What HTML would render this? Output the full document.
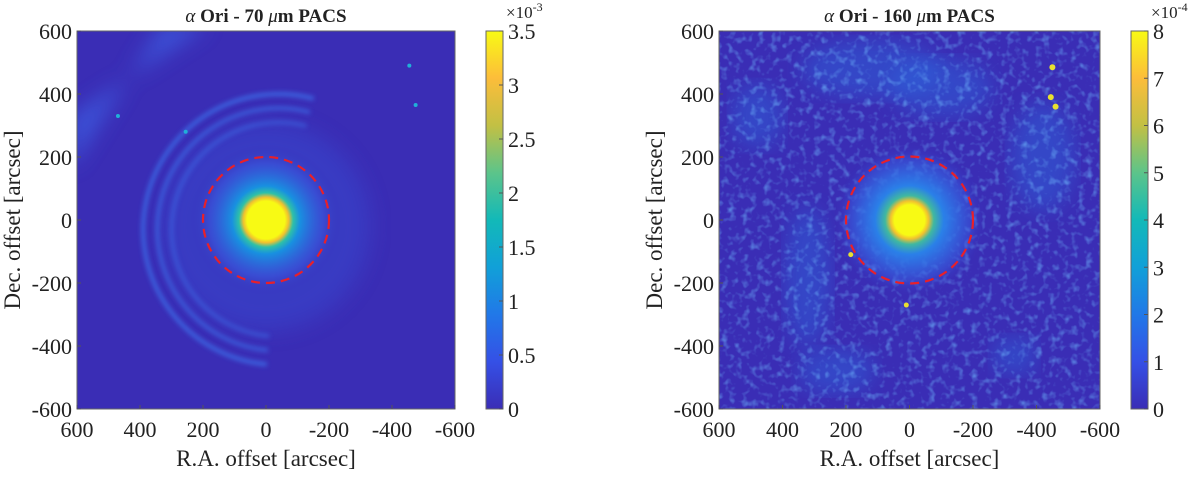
<!DOCTYPE html>
<html><head><meta charset="utf-8">
<style>
body{margin:0;background:#fff;width:1200px;height:478px;overflow:hidden}
svg text{font-family:"Liberation Serif","Times New Roman",serif;fill:#222}
</style></head>
<body>
<svg id="fig" width="1200" height="478" viewBox="0 0 1200 478" xmlns="http://www.w3.org/2000/svg">
<defs>
<linearGradient id="parula" x1="0" y1="1" x2="0" y2="0">
<stop offset="0" stop-color="#3a2db5"/><stop offset="0.125" stop-color="#3550e6"/>
<stop offset="0.25" stop-color="#2178e8"/><stop offset="0.375" stop-color="#11a0d8"/>
<stop offset="0.5" stop-color="#12b9b8"/><stop offset="0.625" stop-color="#5cc48a"/>
<stop offset="0.75" stop-color="#c2c044"/><stop offset="0.875" stop-color="#fcbd3a"/>
<stop offset="1" stop-color="#f8fa14"/>
</linearGradient>
<radialGradient id="star70"><stop offset="0" stop-color="#f8fa14"/><stop offset="0.25" stop-color="#f8fa14"/><stop offset="0.3" stop-color="#f0c030"/><stop offset="0.36" stop-color="#2ec0a8"/><stop offset="0.45" stop-color="#1890e0"/><stop offset="0.75" stop-color="#3a5ae0" stop-opacity="0.55"/><stop offset="1" stop-color="#3a2db5" stop-opacity="0"/></radialGradient>
<radialGradient id="star160"><stop offset="0" stop-color="#f8fa14"/><stop offset="0.2" stop-color="#f8fa14"/><stop offset="0.25" stop-color="#f0c030"/><stop offset="0.32" stop-color="#40b8a0"/><stop offset="0.45" stop-color="#2a80e8"/><stop offset="0.8" stop-color="#3a5ae0" stop-opacity="0.45"/><stop offset="1" stop-color="#3a2db5" stop-opacity="0"/></radialGradient>
<filter id="blur3"><feGaussianBlur stdDeviation="2.5"/></filter>
<filter id="blur8"><feGaussianBlur stdDeviation="10"/></filter>
<filter id="noise" x="0" y="0" width="100%" height="100%"><feTurbulence type="fractalNoise" baseFrequency="0.14" numOctaves="2" seed="4"/><feColorMatrix values="0 0 0 0 0.15  0 0 0 0 0.45  0 0 0 0 0.95  0 0 0 2.2 -1.1"/></filter>
<clipPath id="clipL"><rect x="77" y="31" width="378" height="378"/></clipPath>
<clipPath id="clipR"><rect x="719" y="31" width="381" height="378"/></clipPath>
</defs>
</svg>
<script>
// axis data
const xTicks = [600, 400, 200, 0, -200, -400, -600];
const yTicks = [600, 400, 200, 0, -200, -400, -600];
const cbTicks70 = [0, 0.5, 1, 1.5, 2, 2.5, 3, 3.5];
const cbTicks160 = [0, 1, 2, 3, 4, 5, 6, 7, 8];
// point sources [ra, dec, size]
const src70 = [[470, 330, 2], [-455, 490, 2], [-475, 365, 2], [255, 280, 2]];
const src160 = [[-450, 485, 3], [-445, 390, 3], [-460, 360, 3], [185, -110, 2.5], [10, -270, 2.5]];
// arc radii (arcsec) of 70um shells
const shells70 = [430, 385, 340];
const circleR = 200;

const NS = 'http://www.w3.org/2000/svg';
const fig = document.getElementById('fig');
function el(tag, attrs, parent) {
  const e = document.createElementNS(NS, tag);
  for (const k in attrs) e.setAttribute(k, attrs[k]);
  (parent || fig).appendChild(e);
  return e;
}
function panel(P) {
  const sx = v => P.x + (600 - v) / 1200 * P.w;
  const sy = v => P.y + (600 - v) / 1200 * P.h;
  const k = P.w / 1200;
  const g = el('g', {'clip-path': 'url(#' + P.clip + ')'});
  
  
  el('rect', {x: P.x, y: P.y, width: P.w, height: P.h, fill: '#3a2db5'}, g);
  P.draw(g, sx, sy, k);
  const st = el('circle', {cx: sx(0), cy: sy(0), r: P.starR * k, fill: 'url(#' + P.starGrad + ')'}, g);
  
  
  P.src.forEach(s => {
    const c = el('circle', {cx: sx(s[0]), cy: sy(s[1]), r: s[2], fill: P.srcColor}, g);
    
    
  });
  const dc = el('circle', {cx: sx(0), cy: sy(0), r: circleR * k, fill: 'none', stroke: '#e8202a', 'stroke-width': 2.2, 'stroke-dasharray': '9 6'}, g);
  
  
  el('rect', {x: P.x, y: P.y, width: P.w, height: P.h, fill: 'none', stroke: '#666', 'stroke-width': 1});
  xTicks.forEach(t => {
    el('line', {x1: sx(t), x2: sx(t), y1: P.y + P.h, y2: P.y + P.h - 4, stroke: '#555'});
    const tx = el('text', {x: sx(t), y: P.y + P.h + 28, 'text-anchor': 'middle', 'font-size': 22});
    tx.textContent = t;
    
    
  });
  yTicks.forEach(t => {
    el('line', {x1: P.x, x2: P.x + 4, y1: sy(t), y2: sy(t), stroke: '#555'});
    const tx = el('text', {x: P.x - 5, y: sy(t) + 8, 'text-anchor': 'end', 'font-size': 22});
    tx.textContent = t;
    
    
  });
  const xl = el('text', {x: P.x + P.w / 2, y: 466, 'text-anchor': 'middle', 'font-size': 23});
  xl.textContent = 'R.A. offset [arcsec]';
  
  
  const yl = el('text', {x: 0, y: 0, 'text-anchor': 'middle', 'font-size': 23, transform: 'translate(' + (P.x - 57) + ',' + (P.y + P.h / 2) + ') rotate(-90)'});
  yl.textContent = 'Dec. offset [arcsec]';
  
  
  const ti = el('text', {x: P.x + P.w / 2, y: 22, 'text-anchor': 'middle', 'font-size': 19, 'font-weight': 'bold'});
  ti.innerHTML = '<tspan font-style="italic" font-weight="normal">α</tspan> Ori - ' + P.wl + ' <tspan font-style="italic" font-weight="normal">μ</tspan>m PACS';
  
  
  const cb = el('rect', {x: P.cbx, y: P.y, width: 17, height: P.h, fill: 'url(#parula)', stroke: '#666', 'stroke-width': 1});
  
  
  const max = P.cbTicks[P.cbTicks.length - 1];
  P.cbTicks.forEach(t => {
    const yy = P.y + P.h - t / max * P.h;
    el('line', {x1: P.cbx + 13, x2: P.cbx + 17, y1: yy, y2: yy, stroke: '#555'});
    const tx = el('text', {x: P.cbx + 22, y: yy + 8, 'font-size': 22});
    tx.textContent = t;
    
    
  });
  const ex = el('text', {x: P.cbx + 20, y: 18, 'font-size': 17});
  ex.innerHTML = '×10<tspan dy="-7" font-size="12">' + P.exp + '</tspan>';
  
  
}

panel({name: 'pacs-70', x: 77, y: 31, w: 378, h: 378, clip: 'clipL', cbx: 486, cbTicks: cbTicks70, exp: '-3', wl: '70', starR: 240, starGrad: 'star70', src: src70, srcColor: '#20b0d8',
  draw: (g, sx, sy, k) => {
    el('path', {d: `M${sx(620)},${sy(160)} L${sx(330)},${sy(620)} L${sx(180)},${sy(620)} L${sx(620)},${sy(330)} Z`, fill: '#3e62e6', opacity: 0.7, filter: 'url(#blur8)'}, g);
    el('circle', {cx: sx(0), cy: sy(-20), r: 330 * k, fill: '#3848d0', opacity: 0.5, filter: 'url(#blur8)'}, g);
    shells70.forEach((r, i) => {
      const cx = sx(-40), cy = sy(-30), R = r * k;
      const a0 = 75 * Math.PI / 180, a1 = 265 * Math.PI / 180;
      const p0 = [cx + R * Math.cos(a0), cy - R * Math.sin(a0)];
      const p1 = [cx + R * Math.cos(a1), cy - R * Math.sin(a1)];
      const p = el('path', {d: `M${p0[0]},${p0[1]} A${R},${R} 0 1 0 ${p1[0]},${p1[1]}`, fill: 'none', stroke: '#3c70ea', 'stroke-width': 4, opacity: 0.85 - i * 0.15, filter: 'url(#blur3)'}, g);
      
      
    });
  }});

panel({name: 'pacs-160', x: 719, y: 31, w: 381, h: 378, clip: 'clipR', cbx: 1131, cbTicks: cbTicks160, exp: '-4', wl: '160', starR: 240, starGrad: 'star160', src: src160, srcColor: '#e8e030',
  draw: (g, sx, sy, k) => {
    [[120, 480, 220, 90], [-100, 420, 160, 90], [-420, 200, 100, 170], [-330, -430, 70, 60], [320, -180, 70, 220], [230, -480, 120, 70], [0, 0, 170, 170], [480, 330, 80, 100]].forEach(e => {
      el('ellipse', {cx: sx(e[0]), cy: sy(e[1]), rx: e[2] * k, ry: e[3] * k, fill: '#2a78ea', opacity: 0.35, filter: 'url(#blur8)'}, g);
    });
    el('rect', {x: 719, y: 31, width: 381, height: 378, filter: 'url(#noise)', opacity: 0.7}, g);
  }});
</script>
</body></html>
